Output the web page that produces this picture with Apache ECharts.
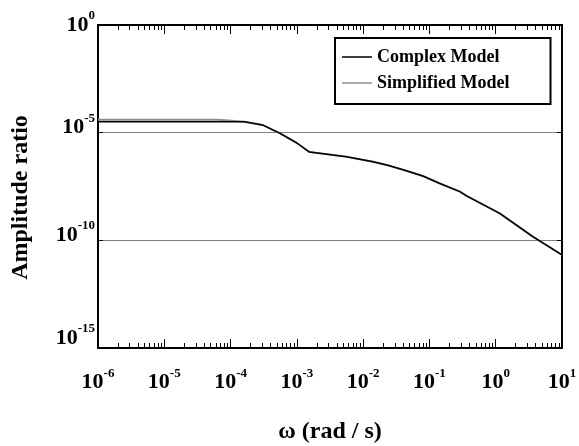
<!DOCTYPE html>
<html>
<head>
<meta charset="utf-8">
<script src="https://cdn.jsdelivr.net/npm/echarts@6/dist/echarts.min.js"></script>
<style>
html,body{margin:0;padding:0;background:#fff;}
#chart{width:579px;height:446px;}
</style>
</head>
<body>
<div id="chart"></div>
<script>
// ---- data ----
var omegaComplex = [1e-6, 1.62e-4, 3.02e-4, 5.5e-4, 1.0e-3, 1.55e-3, 2.19e-3, 5.62e-3, 1.41e-2, 2.51e-2, 4.47e-2, 7.94e-2, 0.141, 0.288, 0.363, 1.15, 3.63, 10];
var ampComplex   = [3.24e-5, 3.24e-5, 2.29e-5, 9.55e-6, 3.31e-6, 1.26e-6, 1.10e-6, 7.59e-7, 4.47e-7, 2.88e-7, 1.70e-7, 9.77e-8, 4.47e-8, 1.82e-8, 1.17e-8, 1.78e-9, 1.48e-10, 2.09e-11];
var omegaSimple  = [1e-6, 6.46e-5, 6.8e-5, 1.62e-4, 3.02e-4, 5.5e-4, 1.0e-3, 1.55e-3, 2.19e-3, 5.62e-3, 1.41e-2, 2.51e-2, 4.47e-2, 7.94e-2, 0.141, 0.288, 0.363, 1.15, 3.63, 10];
var ampSimple    = [3.98e-5, 3.98e-5, 3.24e-5, 3.24e-5, 2.29e-5, 9.55e-6, 3.31e-6, 1.26e-6, 1.10e-6, 7.59e-7, 4.47e-7, 2.88e-7, 1.70e-7, 9.77e-8, 4.47e-8, 1.82e-8, 1.17e-8, 1.78e-9, 1.48e-10, 2.09e-11];
var xDecades = [-6, -5, -4, -3, -2, -1, 0, 1];   // tick exponents: 10^-6 ... 10^1
var yDecades = [-15, -10, -5, 0];                // tick exponents: 10^-15 ... 10^0
var seriesNames = ['Complex Model', 'Simplified Model'];

function toLog(xs, ys) {
  return xs.map(function (x, i) { return [Math.log10(x), Math.log10(ys[i])]; });
}
var minorX = [];
for (var n = xDecades[0]; n < xDecades[xDecades.length - 1]; n++) {
  for (var k = 2; k <= 9; k++) minorX.push(n + Math.log10(k));
}
var FONT = '"Liberation Serif", "Times New Roman", serif';
var yMin = yDecades[0], yMax = yDecades[yDecades.length - 1];
var xMin = xDecades[0], xMax = xDecades[xDecades.length - 1];

function st(size, lh, va) {
  return { fontFamily: FONT, fontWeight: 'bold', fontSize: size, color: '#000', lineHeight: lh, verticalAlign: va };
}
var richX = { b: st(22, 26, 'bottom'), s: st(13, 13, 'top') };
var richY = {
  b:  st(22, 26.5, 'bottom'), s: st(13, 13, 'top'),
  bt: st(22, 27.5, 'bottom'),
  g:  st(1, 15.5, 'middle'),   // spacer lines that set the label's offset from its tick
  gt: st(1, 4.5, 'middle'),
  gb: st(1, 24.5, 'middle')
};
function xLabel(v) { return '{b|10}{s|' + Math.round(v) + '}'; }
function yLabel(v) {
  var e = Math.round(v);
  if (v === yMax) return '{bt|10}{s|' + e + '}\n{gt|\u00a0}';
  if (v === yMin) return '{b|10}{s|' + e + '}\n{gb|\u00a0}';
  return '{b|10}{s|' + e + '}\n{g|\u00a0}';
}
var blackLine = { show: true, onZero: false, lineStyle: { color: '#000', width: 2 } };
var noLine = { show: false, onZero: false };

var chart = echarts.init(document.getElementById('chart'), null, { renderer: 'canvas' });
chart.setOption({
  animation: false,
  backgroundColor: '#fff',
  grid: { left: 98, right: 17, top: 25, bottom: 98, containLabel: false, outerBoundsMode: 'none' },
  legend: {
    data: seriesNames,
    orient: 'vertical',
    left: 335, top: 38,
    padding: [9, 41, 11, 7],
    itemGap: 6,
    icon: 'rect',
    itemWidth: 30, itemHeight: 1.5,
    borderColor: '#000', borderWidth: 2,
    backgroundColor: '#fff',
    textStyle: { fontFamily: FONT, fontWeight: 'bold', fontSize: 18, lineHeight: 20, color: '#000' }
  },
  xAxis: [
    { type: 'value', position: 'bottom', min: xMin, max: xMax, interval: 1,
      axisLine: blackLine,
      axisTick: { show: true, inside: true, length: 9, lineStyle: { color: '#000', width: 1 } },
      axisLabel: { margin: 19, formatter: xLabel, rich: richX },
      splitLine: { show: false },
      name: 'ω (rad / s)', nameLocation: 'middle', nameGap: 72,
      nameTextStyle: { fontFamily: FONT, fontWeight: 'bold', fontSize: 24, color: '#000' } },
    { type: 'value', position: 'bottom', min: xMin, max: xMax,
      axisLine: noLine,
      axisTick: { show: true, inside: true, length: 5, customValues: minorX, lineStyle: { color: '#000', width: 1 } },
      axisLabel: { show: false }, splitLine: { show: false } },
    { type: 'value', position: 'top', min: xMin, max: xMax, interval: 1,
      axisLine: blackLine,
      axisTick: { show: true, inside: true, length: 9, lineStyle: { color: '#000', width: 1 } },
      axisLabel: { show: false }, splitLine: { show: false } },
    { type: 'value', position: 'top', min: xMin, max: xMax,
      axisLine: noLine,
      axisTick: { show: true, inside: true, length: 5, customValues: minorX, lineStyle: { color: '#000', width: 1 } },
      axisLabel: { show: false }, splitLine: { show: false } }
  ],
  yAxis: [
    { type: 'value', position: 'left', min: yMin, max: yMax, interval: 5,
      axisLine: blackLine,
      axisTick: { show: true, inside: true, length: 5, lineStyle: { color: '#000', width: 1 } },
      axisLabel: { margin: 3, formatter: yLabel, rich: richY, verticalAlign: 'middle' },
      splitLine: { show: true, lineStyle: { color: '#808080', width: 1 } },
      name: 'Amplitude ratio', nameLocation: 'middle', nameGap: 65, nameRotate: 90,
      nameTextStyle: { fontFamily: FONT, fontWeight: 'bold', fontSize: 24, color: '#000', padding: [0, 22, 0, 0] } },
    { type: 'value', position: 'right', min: yMin, max: yMax, interval: 5,
      axisLine: blackLine,
      axisTick: { show: true, inside: true, length: 5, lineStyle: { color: '#000', width: 1 } },
      axisLabel: { show: false }, splitLine: { show: false } }
  ],
  series: [
    { name: seriesNames[1], type: 'line', xAxisIndex: 0, yAxisIndex: 0,
      data: toLog(omegaSimple, ampSimple), symbol: 'none', z: 2,
      lineStyle: { color: '#8c8c8c', width: 2 }, itemStyle: { color: '#8c8c8c' } },
    { name: seriesNames[0], type: 'line', xAxisIndex: 0, yAxisIndex: 0,
      data: toLog(omegaComplex, ampComplex), symbol: 'none', z: 3,
      lineStyle: { color: '#000', width: 1.5 }, itemStyle: { color: '#000' } }
  ]
});
</script>
</body>
</html>
